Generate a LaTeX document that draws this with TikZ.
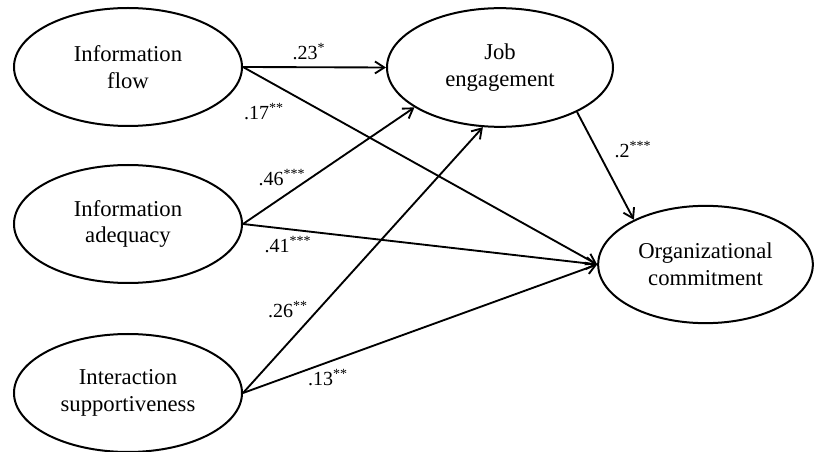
\documentclass[tikz,border=0pt]{standalone}
\usepackage{fontspec}
\setmainfont{Liberation Serif}
\usetikzlibrary{shapes.geometric,arrows.meta}
\begin{document}
\begin{tikzpicture}[x=0.75pt,y=-0.75pt,
    latent/.style={ellipse,draw,line width=1.5pt,inner sep=0pt,align=center,
        minimum width=171pt,minimum height=88.5pt,font=\fontsize{17}{20}\selectfont},
    effect/.style={line width=1.4pt,-{Straight Barb[length=7pt,width=9pt,line width=1.4pt]}},
    coef/.style={inner sep=0pt,font=\fontsize{15}{18}\selectfont}]
    \useasboundingbox (0,0) rectangle (814,452);
    \node[latent] (flow) at (128,67) {Information\\flow};
    \node[latent] (adeq) at (128,224) {Information\\adequacy};
    \node[latent] (supp) at (128,393) {Interaction\\supportiveness};
    \node[latent,minimum width=169.5pt,minimum height=89pt] (job) at (500,67.5) {Job\\engagement};
    \node[latent,minimum width=161pt,minimum height=88pt] (org) at (705.5,264.5) {Organizational\\commitment};
    \draw[effect] (flow.east) -- (job.west);
    \draw[effect] (flow.east) -- (org.west);
    \draw[effect] (adeq.east) -- (job.205.7);
    \draw[effect] (adeq.east) -- (org.west);
    \draw[effect] (supp.east) -- (job.254);
    \draw[effect] (supp.east) -- (org.west);
    \draw[effect] (job.330.6) -- (org.148.9);
    \node[coef] (b1) at (309,52) {.23\textsuperscript{*}};
    \node[coef] (b2) at (264,112) {.17\textsuperscript{**}};
    \node[coef] (b3) at (282,178) {.46\textsuperscript{***}};
    \node[coef] (b4) at (288,245) {.41\textsuperscript{***}};
    \node[coef] (b5) at (288,310) {.26\textsuperscript{**}};
    \node[coef] (b6) at (328,378) {.13\textsuperscript{**}};
    \node[coef] (b7) at (633,150) {.2\textsuperscript{***}};
\end{tikzpicture}
\end{document}
